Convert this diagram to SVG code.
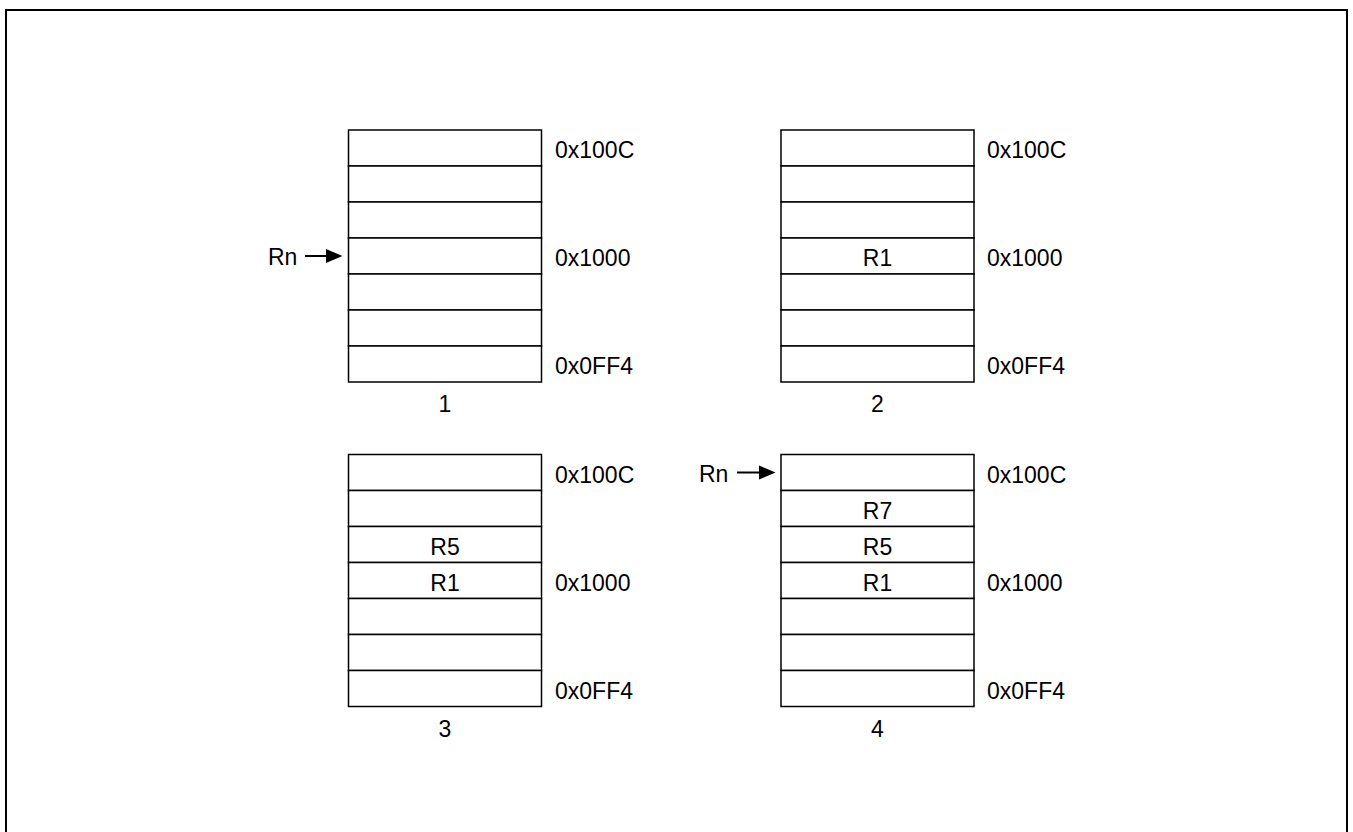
<svg xmlns="http://www.w3.org/2000/svg" width="1353" height="832" viewBox="0 0 1353 832">
<style>
.cell{fill:#fff;stroke:#000;stroke-width:1.5}
.t{font-family:"Liberation Sans",Arial,sans-serif;font-size:23px;fill:#000}
.c{text-anchor:middle}
.arr{stroke:#000;stroke-width:2;fill:none}
</style>
<defs>
<g id="stack">
<rect class="cell" x="0" y="0" width="193" height="36"/>
<rect class="cell" x="0" y="36" width="193" height="36"/>
<rect class="cell" x="0" y="72" width="193" height="36"/>
<rect class="cell" x="0" y="108" width="193" height="36"/>
<rect class="cell" x="0" y="144" width="193" height="36"/>
<rect class="cell" x="0" y="180" width="193" height="36"/>
<rect class="cell" x="0" y="216" width="193" height="36"/>
</g>
</defs>
<rect x="6" y="10" width="1341" height="840" fill="none" stroke="#000" stroke-width="2"/>

<g id="node1">
<use href="#stack" x="348.5" y="130"/>
<text class="t" x="555" y="158">0x100C</text>
<text class="t" x="555" y="266">0x1000</text>
<text class="t" x="555" y="374">0x0FF4</text>
<text class="t c" x="445" y="412">1</text>
<text class="t" x="268" y="265">Rn</text>
</g>
<g id="node2">
<use href="#stack" x="781" y="130"/>
<text class="t c" x="877.5" y="266">R1</text>
<text class="t" x="987" y="158">0x100C</text>
<text class="t" x="987" y="266">0x1000</text>
<text class="t" x="987" y="374">0x0FF4</text>
<text class="t c" x="877.5" y="412">2</text>
</g>
<g id="node3">
<use href="#stack" x="348.5" y="454.5"/>
<text class="t c" x="445" y="554.5">R5</text>
<text class="t c" x="445" y="590.5">R1</text>
<text class="t" x="555" y="482.5">0x100C</text>
<text class="t" x="555" y="590.5">0x1000</text>
<text class="t" x="555" y="698.5">0x0FF4</text>
<text class="t c" x="445" y="736.5">3</text>
</g>
<g id="node4">
<use href="#stack" x="781" y="454.5"/>
<text class="t c" x="877.5" y="518.5">R7</text>
<text class="t c" x="877.5" y="554.5">R5</text>
<text class="t c" x="877.5" y="590.5">R1</text>
<text class="t" x="987" y="482.5">0x100C</text>
<text class="t" x="987" y="590.5">0x1000</text>
<text class="t" x="987" y="698.5">0x0FF4</text>
<text class="t c" x="877.5" y="736.5">4</text>
<text class="t" x="699" y="481.5">Rn</text>
</g>
<g id="connectors">
<line class="arr" x1="305" y1="256" x2="330" y2="256"/>
<polygon points="342.5,256 326,249 326,263" fill="#000"/>
<line class="arr" x1="737" y1="472.5" x2="762" y2="472.5"/>
<polygon points="775.5,472.5 759,465.5 759,479.5" fill="#000"/>
</g>
</svg>
